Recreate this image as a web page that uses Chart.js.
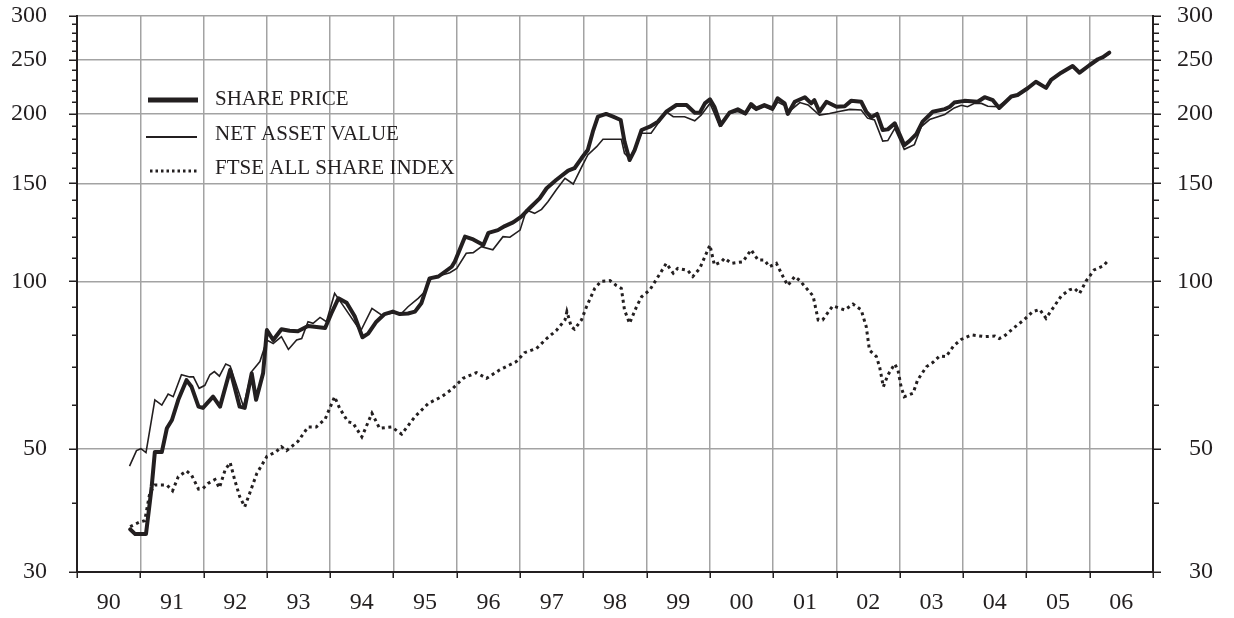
<!DOCTYPE html>
<html>
<head>
<meta charset="utf-8">
<script src="https://cdn.jsdelivr.net/npm/chart.js@4.4.0/dist/chart.umd.min.js"></script>
<style>
html,body{margin:0;padding:0;background:#ffffff;}
#wrap{width:1234px;height:618px;position:relative;}
</style>
</head>
<body>
<div id="wrap"><canvas id="c" width="1234" height="618"></canvas></div>
<script>
// ---- tick labels ----
const yearLabels = ['90','91','92','93','94','95','96','97','98','99','00','01','02','03','04','05','06'];
const firstYear = 1990;
const lastYear = 2007;
const yMajorTicks = [30, 50, 100, 150, 200, 250, 300];
const yMinorTicks = [40, 60, 70, 80, 90, 110, 120, 130, 140, 160, 170, 180, 190, 210, 220, 230, 240, 260, 270, 280, 290];

// ---- series labels ----
const seriesNames = ['SHARE PRICE', 'NET ASSET VALUE', 'FTSE ALL SHARE INDEX'];

// ---- SHARE PRICE ----
const spDates = [
  1990.84,1990.92,1991.09,1991.18,1991.23,1991.34,1991.42,1991.50,1991.60,1991.73,
  1991.81,1991.92,1991.99,1992.15,1992.26,1992.42,1992.57,1992.65,1992.76,1992.83,
  1992.94,1993.00,1993.10,1993.23,1993.36,1993.49,1993.65,1993.92,1994.02,1994.13,
  1994.26,1994.39,1994.51,1994.60,1994.73,1994.86,1994.99,1995.10,1995.23,1995.34,
  1995.44,1995.57,1995.71,1995.92,1995.97,1996.13,1996.26,1996.42,1996.50,1996.65,
  1996.76,1996.89,1997.02,1997.15,1997.31,1997.42,1997.57,1997.76,1997.86,1997.97,
  1998.07,1998.15,1998.23,1998.36,1998.47,1998.59,1998.65,1998.73,1998.81,1998.92,
  1999.05,1999.18,1999.31,1999.47,1999.63,1999.76,1999.84,1999.92,2000.00,2000.07,
  2000.17,2000.31,2000.44,2000.56,2000.65,2000.73,2000.86,2000.99,2001.07,2001.18,
  2001.23,2001.34,2001.50,2001.60,2001.65,2001.73,2001.84,2002.00,2002.13,2002.23,
  2002.39,2002.47,2002.55,2002.64,2002.73,2002.81,2002.92,2003.07,2003.15,2003.26,
  2003.36,2003.52,2003.71,2003.79,2003.86,2004.02,2004.23,2004.34,2004.47,2004.57,
  2004.76,2004.86,2005.02,2005.15,2005.31,2005.39,2005.55,2005.73,2005.84,2006.00,
  2006.13,2006.21,2006.31
];
const spValues = [
  35.8,35.1,35.1,42.7,49.3,49.3,54.4,56.3,61.2,66.4,
  64.6,59.5,59.2,62.0,59.5,69.3,59.5,59.2,68.3,61.2,
  68.3,81.7,78.4,82.0,81.5,81.3,83.1,82.4,87.6,93.2,
  91.5,86.4,79.3,80.5,84.6,87.3,88.2,87.3,87.5,88.2,
  91.3,101.2,102.0,106.2,108.5,120.3,118.9,116.2,122.2,123.6,
  125.7,127.6,130.7,135.3,141.0,147.0,152.1,158.1,159.7,166.4,
  172.2,185.8,197.7,200.0,197.7,195.0,178.3,165.2,172.2,187.1,
  189.7,193.7,201.8,207.5,207.5,201.0,201.0,208.9,212.5,206.0,
  191.0,201.0,203.8,200.4,208.3,204.5,207.5,204.6,213.4,208.9,
  200.0,210.3,214.3,208.9,211.7,201.8,210.3,206.0,206.5,211.1,
  210.3,201.8,197.2,200.0,187.1,187.6,192.3,175.8,178.7,183.9,
  193.7,201.8,204.0,206.0,209.6,211.1,210.3,214.3,211.7,205.0,
  215.0,216.3,222.4,228.5,222.8,230.2,237.2,243.9,237.2,244.9,
  250.8,253.0,257.8
];

// ---- NET ASSET VALUE ----
const navDates = [
  1990.83,1990.94,1991.01,1991.09,1991.23,1991.34,1991.44,1991.52,1991.65,1991.78,
  1991.84,1991.93,1992.02,1992.10,1992.17,1992.25,1992.35,1992.42,1992.63,1992.76,
  1992.89,1993.00,1993.10,1993.23,1993.34,1993.47,1993.55,1993.65,1993.73,1993.84,
  1993.94,1994.07,1994.20,1994.48,1994.66,1994.81,1994.97,1995.13,1995.23,1995.39,
  1995.47,1995.60,1995.78,1995.89,1996.00,1996.15,1996.26,1996.39,1996.57,1996.73,
  1996.84,1997.00,1997.10,1997.23,1997.34,1997.44,1997.57,1997.71,1997.84,1997.97,
  1998.07,1998.21,1998.31,1998.60,1998.65,1998.73,1998.81,1998.92,1999.07,1999.18,
  1999.31,1999.42,1999.60,1999.76,1999.86,2000.00,2000.07,2000.15,2000.31,2000.44,
  2000.56,2000.65,2000.73,2000.86,2000.99,2001.07,2001.18,2001.23,2001.42,2001.55,
  2001.73,2001.89,2002.02,2002.21,2002.39,2002.49,2002.60,2002.73,2002.81,2002.92,
  2003.07,2003.23,2003.34,2003.47,2003.71,2003.86,2003.97,2004.07,2004.18,2004.29,
  2004.39,2004.55,2004.76,2004.86,2005.02,2005.15,2005.31,2005.39,2005.55,2005.73,
  2005.84,2006.00,2006.13,2006.21,2006.31
];
const navValues = [
  46.5,49.6,50.0,49.2,61.2,59.9,62.7,62.0,67.9,67.3,
  67.3,64.2,65.0,67.9,68.8,67.5,71.0,70.4,59.5,68.8,
  71.7,78.4,77.3,79.5,75.4,78.4,78.9,84.6,84.0,86.1,
  84.6,95.1,90.6,81.3,89.4,87.0,87.6,87.6,90.0,93.2,
  95.1,101.2,102.7,103.6,105.5,112.3,112.6,115.4,113.9,120.3,
  120.0,123.6,134.3,132.5,134.7,139.0,145.9,153.2,149.6,160.3,
  168.7,174.6,180.1,180.1,169.9,166.4,173.0,184.6,184.6,192.3,
  201.8,197.7,197.7,194.4,199.0,208.9,200.4,190.3,200.4,202.0,
  199.5,206.0,203.0,206.0,203.0,210.0,207.0,201.0,209.6,207.5,
  199.0,200.4,201.8,203.8,203.3,196.5,195.0,178.7,179.1,188.3,
  172.7,176.1,189.7,195.4,199.5,205.0,207.3,206.0,208.9,208.9,
  206.5,206.0,214.5,216.0,222.0,228.0,222.5,230.0,236.5,243.5,
  237.0,244.5,250.5,252.5,256.5
];

// ---- FTSE ALL SHARE INDEX ----
const ftseDates = [
  1990.84,1990.99,1991.07,1991.15,1991.23,1991.42,1991.51,1991.60,1991.73,1991.81,
  1991.92,1991.99,1992.07,1992.18,1992.25,1992.34,1992.42,1992.49,1992.57,1992.65,
  1992.73,1992.84,1993.00,1993.15,1993.23,1993.31,1993.49,1993.65,1993.78,1993.92,
  1994.07,1994.15,1994.28,1994.36,1994.50,1994.66,1994.78,1994.97,1995.13,1995.34,
  1995.55,1995.76,1995.92,1996.10,1996.31,1996.47,1996.68,1996.94,1997.07,1997.26,
  1997.42,1997.57,1997.71,1997.74,1997.81,1997.86,1997.97,1998.05,1998.18,1998.28,
  1998.42,1998.52,1998.60,1998.65,1998.73,1998.84,1998.92,1999.05,1999.15,1999.31,
  1999.42,1999.49,1999.65,1999.73,1999.84,2000.00,2000.07,2000.18,2000.23,2000.34,
  2000.52,2000.65,2000.76,2000.86,2000.94,2001.05,2001.18,2001.23,2001.34,2001.42,
  2001.63,2001.71,2001.78,2001.94,2002.13,2002.26,2002.39,2002.47,2002.52,2002.63,
  2002.68,2002.74,2002.81,2002.92,2002.97,2003.02,2003.07,2003.21,2003.28,2003.42,
  2003.52,2003.63,2003.73,2003.85,2003.97,2004.13,2004.34,2004.50,2004.57,2004.65,
  2004.81,2004.97,2005.10,2005.21,2005.31,2005.42,2005.55,2005.68,2005.76,2005.84,
  2005.94,2006.07,2006.21,2006.30
];
const ftseValues = [
  36.2,36.9,37.1,41.6,43.0,43.0,42.0,44.5,45.6,44.8,
  42.3,42.4,43.3,44.0,42.5,45.8,47.2,44.0,41.0,39.3,
  41.6,45.1,48.4,49.4,50.4,49.6,51.5,54.7,54.7,56.5,
  62.0,59.1,55.9,55.6,52.5,57.9,54.4,54.7,53.1,57.1,
  60.3,62.0,63.9,66.9,68.5,66.9,69.3,71.7,74.4,75.7,
  78.9,81.5,85.2,88.2,82.8,82.0,85.2,90.0,97.1,100.0,
  100.3,98.3,97.1,88.8,84.0,90.0,93.8,96.5,100.6,107.7,
  103.4,105.5,104.6,102.0,105.5,116.2,107.0,108.4,110.0,107.7,
  108.4,113.9,109.2,109.2,106.2,107.7,100.6,98.3,102.0,100.3,
  94.1,85.2,85.2,90.3,88.8,91.0,88.8,82.8,75.2,73.2,
  70.2,64.6,67.8,71.0,69.3,64.6,62.0,62.9,66.4,70.2,
  71.4,73.4,73.2,76.5,78.6,80.1,79.5,79.7,78.9,79.7,
  82.6,85.4,88.2,89.0,85.8,89.5,94.1,96.5,97.1,95.1,
  100.0,104.8,106.5,109.2
];

function toPoints(dates, values) {
  return dates.map((d, i) => ({ x: d, y: values[i] }));
}

const INK = '#231f20';
const GRID = '#a3a3a3';
const FONT = '"Liberation Serif", "Times New Roman", serif';

const allYTicks = yMajorTicks.concat(yMinorTicks).sort((a, b) => a - b);
const xTickValues = [];
for (let y = firstYear; y <= lastYear; y++) {
  xTickValues.push(y);
  if (y < lastYear) xTickValues.push(y + 0.5);
}

// draws small tick marks on the axes through the scales
const tickMarks = {
  id: 'tickMarks',
  afterDraw(chart) {
    const ctx = chart.ctx;
    const ys = chart.scales.y, ys2 = chart.scales.y2, xs = chart.scales.x;
    const ca = chart.chartArea;
    ctx.save();
    ctx.strokeStyle = INK;
    ctx.lineWidth = 1.5;
    ctx.beginPath();
    allYTicks.forEach(v => {
      const p = Math.round(ys.getPixelForValue(v)) + 0.25;
      const major = yMajorTicks.includes(v);
      ctx.moveTo(ca.left - (major ? 8 : 5), p);
      ctx.lineTo(ca.left, p);
      const p2 = Math.round(ys2.getPixelForValue(v)) + 0.25;
      ctx.moveTo(ca.right, p2);
      ctx.lineTo(ca.right + (major ? 8 : 6), p2);
    });
    for (let yr = firstYear; yr <= lastYear; yr++) {
      const px = Math.round(xs.getPixelForValue(yr)) + 0.25;
      ctx.moveTo(px, ca.bottom);
      ctx.lineTo(px, ca.bottom + 6);
    }
    ctx.stroke();
    ctx.restore();
  }
};

// legend drawn inside the plot area from the dataset definitions
const innerLegend = {
  id: 'innerLegend',
  afterDatasetsDraw(chart) {
    const ctx = chart.ctx;
    const rows = [
      { lineY: 100, textY: 99, x1: 148, x2: 198, width: 5, dash: [] },
      { lineY: 137, textY: 134, x1: 146, x2: 197, width: 2, dash: [] },
      { lineY: 171, textY: 168, x1: 150, x2: 198, width: 3, dash: [2.5, 3] }
    ];
    ctx.save();
    chart.data.datasets.forEach((ds, i) => {
      const r = rows[i];
      ctx.beginPath();
      ctx.strokeStyle = INK;
      ctx.lineWidth = r.width;
      ctx.setLineDash(r.dash);
      ctx.moveTo(r.x1, r.lineY);
      ctx.lineTo(r.x2, r.lineY);
      ctx.stroke();
      ctx.setLineDash([]);
      ctx.fillStyle = INK;
      ctx.font = '21px ' + FONT;
      ctx.textAlign = 'left';
      ctx.textBaseline = 'middle';
      ctx.fillText(ds.label, 215, r.textY);
    });
    ctx.restore();
  }
};

function fixVertical(width) {
  return (s) => {
    s.width = width;
    s.paddingTop = 0;
    s.paddingBottom = 0;
  };
}

const chart = new Chart(document.getElementById('c'), {
  type: 'line',
  data: {
    datasets: [
      {
        label: seriesNames[0],
        data: toPoints(spDates, spValues),
        borderColor: INK,
        borderWidth: 4,
        pointRadius: 0,
        tension: 0,
        borderJoinStyle: 'round',
        borderCapStyle: 'round'
      },
      {
        label: seriesNames[1],
        data: toPoints(navDates, navValues),
        borderColor: INK,
        borderWidth: 1.6,
        pointRadius: 0,
        tension: 0
      },
      {
        label: seriesNames[2],
        data: toPoints(ftseDates, ftseValues),
        borderColor: INK,
        borderWidth: 3,
        borderDash: [3, 3.6],
        pointRadius: 0,
        tension: 0
      }
    ]
  },
  options: {
    responsive: false,
    animation: false,
    devicePixelRatio: 1,
    layout: { padding: { top: 16, right: 21, left: 0, bottom: 0 } },
    plugins: {
      legend: { display: false },
      tooltip: { enabled: false }
    },
    scales: {
      x: {
        type: 'linear',
        min: firstYear,
        max: lastYear,
        afterBuildTicks: (s) => { s.ticks = xTickValues.map(v => ({ value: v })); },
        afterFit: (s) => { s.height = 46; s.paddingLeft = 0; s.paddingRight = 0; },
        grid: {
          drawTicks: false,
          color: (c) => {
            const v = c.tick ? c.tick.value : null;
            return (Number.isInteger(v) && v > firstYear && v < lastYear) ? GRID : 'rgba(0,0,0,0)';
          },
          lineWidth: 1.5
        },
        border: { display: true, color: INK, width: 2 },
        ticks: {
          autoSkip: false,
          maxRotation: 0,
          minRotation: 0,
          padding: 16,
          color: INK,
          font: { family: FONT, size: 24 },
          callback: (v) => Number.isInteger(v) ? '' : yearLabels[Math.floor(v) - firstYear]
        }
      },
      y: {
        type: 'logarithmic',
        position: 'left',
        min: 30,
        max: 300,
        afterBuildTicks: (s) => { s.ticks = allYTicks.map(v => ({ value: v, major: yMajorTicks.includes(v) })); },
        afterFit: fixVertical(77),
        grid: {
          drawTicks: false,
          color: (c) => {
            const v = c.tick ? c.tick.value : null;
            return (yMajorTicks.includes(v) && v > 30) ? GRID : 'rgba(0,0,0,0)';
          },
          lineWidth: 1.5
        },
        border: { display: true, color: INK, width: 2 },
        ticks: {
          autoSkip: false,
          padding: 30,
          color: INK,
          font: { family: FONT, size: 24 },
          callback: (v) => yMajorTicks.includes(v) ? String(v) : ''
        }
      },
      y2: {
        type: 'logarithmic',
        position: 'right',
        min: 30,
        max: 300,
        afterBuildTicks: (s) => { s.ticks = allYTicks.map(v => ({ value: v })); },
        afterFit: fixVertical(60),
        grid: { display: true, drawOnChartArea: false, drawTicks: false },
        border: { display: true, color: INK, width: 2 },
        ticks: {
          autoSkip: false,
          crossAlign: 'far',
          color: INK,
          font: { family: FONT, size: 24 },
          callback: (v) => yMajorTicks.includes(v) ? String(v) : ''
        }
      }
    }
  },
  plugins: [tickMarks, innerLegend]
});
</script>
</body>
</html>
